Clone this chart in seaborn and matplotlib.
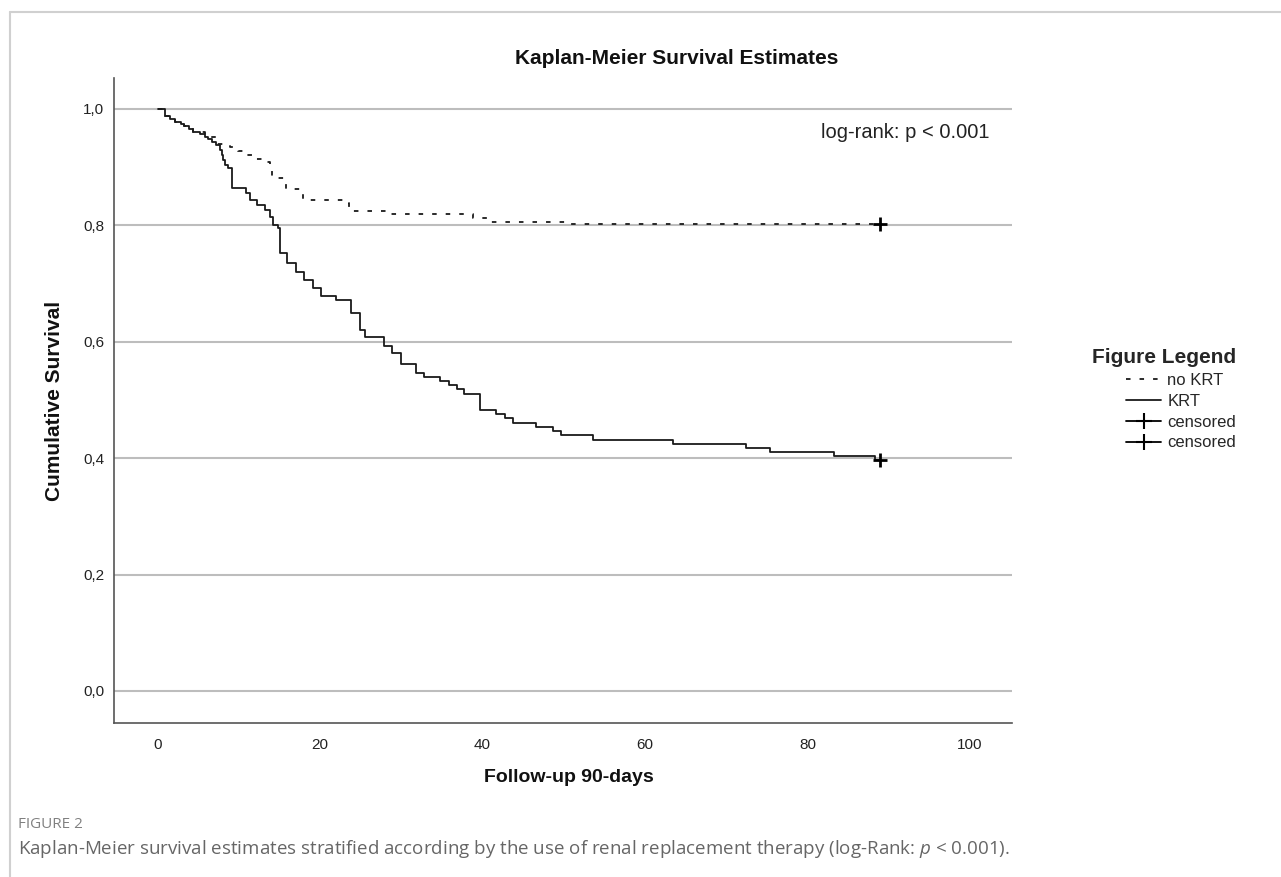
import numpy as np
import pandas as pd
import matplotlib
matplotlib.use("Agg")
import matplotlib.pyplot as plt
import seaborn as sns
from matplotlib.lines import Line2D

# step points (time in days, cumulative survival)
krt_time = [0, 0.9, 1.5, 2.1, 2.8, 3.2, 3.8, 4.3, 5.2, 5.8, 6.2, 6.7, 7.2, 7.6, 7.9,
            8.0, 8.3, 8.6, 9.1, 10.9, 11.3, 12.2, 13.2, 13.8, 14.2, 14.8, 15.0, 15.9,
            17.0, 18.0, 19.05, 20.1, 21.9, 23.8, 24.9, 25.5, 27.9, 28.9, 29.9, 31.8,
            32.8, 34.7, 35.8, 36.8, 37.7, 39.7, 41.7, 42.7, 43.8, 46.6, 48.7, 49.6,
            53.6, 63.5, 72.4, 75.4, 83.3, 88.3, 89]
krt_surv = [1.0, 0.987, 0.982, 0.978, 0.974, 0.970, 0.965, 0.961, 0.957, 0.952, 0.948,
            0.943, 0.938, 0.930, 0.921, 0.912, 0.904, 0.898, 0.864, 0.855, 0.844, 0.835,
            0.826, 0.815, 0.801, 0.795, 0.752, 0.735, 0.720, 0.706, 0.692, 0.678, 0.671,
            0.649, 0.620, 0.608, 0.592, 0.581, 0.562, 0.547, 0.540, 0.533, 0.526, 0.518,
            0.511, 0.483, 0.476, 0.469, 0.461, 0.453, 0.447, 0.439, 0.432, 0.425, 0.418,
            0.410, 0.403, 0.397, 0.397]

nokrt_time = [0, 0.9, 2.1, 3.2, 4.3, 5.8, 7.2, 8.9, 9.9, 10.9, 11.9, 13.0, 13.8, 14.1,
              15.8, 17.9, 22.8, 23.6, 28.4, 38.8, 41.0, 50.7, 89]
nokrt_surv = [1.0, 0.987, 0.978, 0.970, 0.961, 0.952, 0.940, 0.935, 0.928, 0.921, 0.913,
              0.908, 0.899, 0.881, 0.862, 0.844, 0.838, 0.825, 0.819, 0.812, 0.806,
              0.802, 0.802]

censor_time = [89, 89]
censor_surv = [0.802, 0.397]

y_ticks = [0.0, 0.2, 0.4, 0.6, 0.8, 1.0]
y_labels = ["0,0", "0,2", "0,4", "0,6", "0,8", "1,0"]
x_ticks = [0, 20, 40, 60, 80, 100]

sns.set_theme(style="white")
plt.rcParams["font.family"] = ["Liberation Sans", "DejaVu Sans"]
plt.rcParams["mathtext.fontset"] = "custom"
plt.rcParams["mathtext.it"] = "Open Sans:italic"

W, H = 1281, 877
fig = plt.figure(figsize=(W / 100, H / 100), dpi=100)
ax = fig.add_axes([114 / W, 1 - 723 / H, (1012 - 114) / W, (723 - 78) / H])

krt = pd.DataFrame({"time": krt_time, "surv": krt_surv})
nokrt = pd.DataFrame({"time": nokrt_time, "surv": nokrt_surv})

sns.lineplot(data=nokrt, x="time", y="surv", drawstyle="steps-post", estimator=None,
             sort=False, color="#1a1a1a", lw=1.3, linestyle=(0, (2.5, 5)), ax=ax)
sns.lineplot(data=krt, x="time", y="surv", drawstyle="steps-post", estimator=None,
             sort=False, color="#1a1a1a", lw=1.3, ax=ax)
sns.scatterplot(x=censor_time, y=censor_surv, marker="+", s=100, color="black",
                linewidth=2, ax=ax, zorder=5)

ax.set_xlim(-5.4, 105.2)
ax.set_ylim(-0.055, 1.053)
ax.set_yticks(y_ticks)
ax.set_yticklabels(y_labels)
ax.set_xticks(x_ticks)
ax.yaxis.grid(True, color="#bdbdbd", lw=1.5)
ax.xaxis.grid(False)
ax.set_axisbelow(True)
ax.tick_params(length=0, labelsize=11, colors="#222222")
ax.tick_params(axis="x", pad=11)
ax.tick_params(axis="y", pad=7)
for side in ["top", "right"]:
    ax.spines[side].set_visible(False)
for side in ["left", "bottom"]:
    ax.spines[side].set_color("#555555")
    ax.spines[side].set_linewidth(1.2)

ax.set_xlabel("Follow-up 90-days", fontsize=14, fontweight="bold", color="#111111")
ax.xaxis.set_label_coords(0.507, -0.085)
ax.xaxis.label.set_va("center")
ax.set_ylabel("Cumulative Survival", fontsize=15, fontweight="bold", color="#111111")
ax.yaxis.set_label_coords(-0.066, 0.5)
ax.yaxis.label.set_va("center")

ax.set_title("Kaplan-Meier Survival Estimates", fontsize=15, fontweight="bold",
             x=0.627, y=1.031, va="center", pad=0, color="#111111")
ax.text(0.881, 0.915, "log-rank: p < 0.001", transform=ax.transAxes, ha="center",
        va="center", fontsize=14.5, color="#222222")

handles = [
    Line2D([], [], color="#1a1a1a", lw=1.3, linestyle=(0, (2.5, 5))),
    Line2D([], [], color="#1a1a1a", lw=1.3),
    Line2D([], [], color="black", lw=1.3, marker="+", markersize=11, markeredgewidth=1.5),
    Line2D([], [], color="black", lw=1.3, marker="+", markersize=11, markeredgewidth=1.5),
]
leg = ax.legend(handles, ["no KRT", "KRT", "censored", "censored"], title="Figure Legend",
                loc="upper left", bbox_to_anchor=(1092 / W, 1 - 348 / H),
                bbox_transform=fig.transFigure, frameon=False, fontsize=12,
                handlelength=2.1, handletextpad=0.36, labelspacing=0.35, borderpad=0,
                borderaxespad=0, numpoints=1, alignment="right")
leg.get_title().set_fontweight("bold")
leg.get_title().set_fontsize(15)

# journal panel frame and caption
fig.add_artist(Line2D([10 / W, 10 / W], [0, 1 - 12 / H], transform=fig.transFigure,
                      color="#d0d0d0", lw=1.5))
fig.add_artist(Line2D([10 / W, 1], [1 - 12 / H, 1 - 12 / H], transform=fig.transFigure,
                      color="#d0d0d0", lw=1.5))
fig.text(18 / W, 1 - 824 / H, "FIGURE 2", fontsize=11, color="#808080",
         family="Open Sans", va="center")
fig.text(18 / W, 1 - 849 / H,
         "Kaplan-Meier survival estimates stratified according by the use of renal "
         "replacement therapy (log-Rank: $p$ < 0.001).",
         fontsize=13.5, color="#666666", family="Open Sans", va="center")

fig.savefig("out.png", dpi=100, facecolor="white")
